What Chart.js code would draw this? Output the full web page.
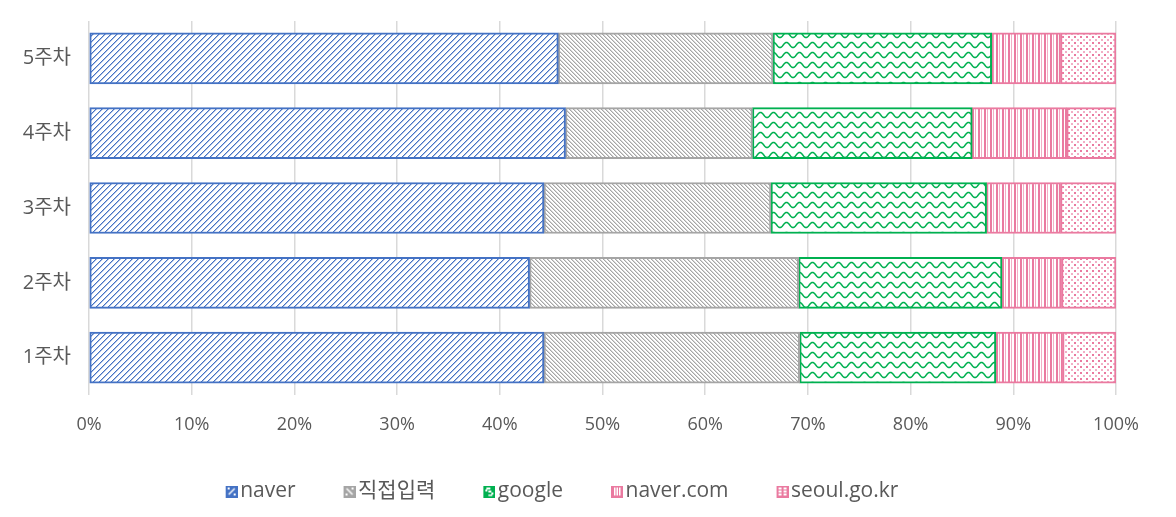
<!DOCTYPE html>
<html>
<head>
<meta charset="utf-8">
<script src="https://cdn.jsdelivr.net/npm/chart.js@4"></script>
<style>
  body { margin: 0; background: #fff; }
  #wrap { width: 1176px; height: 517px; }
</style>
</head>
<body>
<div id="wrap"><canvas id="chart"></canvas></div>
<script>
var weeks = ["1주차", "2주차", "3주차", "4주차", "5주차"];
var seriesNames = ["naver", "직접입력", "google", "naver.com", "seoul.go.kr"];
var naver = [44.3, 42.9, 44.3, 46.4, 45.7];
var direct = [24.9, 26.2, 22.1, 18.2, 20.9];
var google = [19.1, 19.8, 21.0, 21.4, 21.3];
var naverCom = [6.5, 5.8, 7.2, 9.2, 6.7];
var seoul = [5.2, 5.3, 5.4, 4.8, 5.4];
var xTicks = [0, 10, 20, 30, 40, 50, 60, 70, 80, 90, 100];

var BLUE = "#4472C4", GRAY = "#A5A5A5", GREEN = "#00B050", PINK = "#EA7AA0";

// small tiles drawn pixel by pixel, then turned into patterns
function tile(w, h, draw) {
    var c = document.createElement("canvas");
    c.width = w; c.height = h;
    var g = c.getContext("2d");
    g.fillStyle = "#fff";
    g.fillRect(0, 0, w, h);
    draw(g, w, h);
    return document.createElement("canvas").getContext("2d").createPattern(c, "repeat");
}

var patNaver = tile(6, 6, function(g, w, h) {
    for (var x = 0; x < w; x++) for (var y = 0; y < h; y++) {
        var k = (x + y) % 6;
        if (k == 0) { g.fillStyle = BLUE; g.fillRect(x, y, 1, 1); }
        if (k == 1) { g.fillStyle = "rgba(68,114,196,0.45)"; g.fillRect(x, y, 1, 1); }
    }
});
var patDirect = tile(4, 4, function(g, w, h) {
    for (var x = 0; x < w; x++) for (var y = 0; y < h; y++) {
        var k = ((x - y) % 4 + 4) % 4;
        if (k == 0) { g.fillStyle = GRAY; g.fillRect(x, y, 1, 1); }
        if (k == 1) { g.fillStyle = "rgba(165,165,165,0.45)"; g.fillRect(x, y, 1, 1); }
    }
});
var patGoogle = tile(13, 10, function(g, w, h) {
    g.strokeStyle = GREEN;
    g.lineWidth = 1.5;
    g.beginPath();
    for (var x = -1; x <= w + 1; x += 0.5) {
        var y = 5 + 2.6 * Math.cos(2 * Math.PI * x / w);
        if (x == -1) g.moveTo(x, y); else g.lineTo(x, y);
    }
    g.stroke();
});
var patNaverCom = tile(6, 4, function(g, w, h) {
    g.fillStyle = PINK;
    g.fillRect(0, 0, 2, h);
    g.fillStyle = "rgba(234,122,160,0.6)";
    g.fillRect(3, 0, 1, h);
});
var patSeoul = tile(6, 6, function(g, w, h) {
    g.fillStyle = PINK;
    g.fillRect(0, 0, 2, 2);
    g.fillStyle = "rgba(234,122,160,0.6)";
    g.fillRect(3, 3, 2, 2);
});

// legend icons: coloured 12px square with a white glyph, sitting at the right of a wider image
// so that the text follows close behind it
function icon(color, glyph) {
    var c = document.createElement("canvas");
    c.width = 28; c.height = 12;
    var g = c.getContext("2d");
    g.translate(16, 0);
    g.fillStyle = color;
    g.fillRect(0, 0, 12, 12);
    g.strokeStyle = "#fff";
    g.fillStyle = "#fff";
    g.lineWidth = 1.5;
    glyph(g);
    return c;
}
var icons = [
    icon(BLUE, function(g) { g.beginPath(); g.moveTo(3, 9); g.lineTo(9, 3); g.stroke(); g.fillRect(2, 2, 2, 2); g.fillRect(8, 8, 2, 2); }),
    icon(GRAY, function(g) { g.beginPath(); g.moveTo(3, 3); g.lineTo(9, 9); g.stroke(); g.fillRect(8, 2, 2, 2); g.fillRect(2, 8, 2, 2); }),
    icon(GREEN, function(g) { g.fillRect(3, 2, 4, 2); g.fillRect(2, 4, 2, 2); g.fillRect(5, 5, 3, 2); g.fillRect(8, 7, 2, 2); g.fillRect(5, 9, 4, 1.5); }),
    icon(PINK, function(g) { g.fillRect(3, 2, 1.5, 8); g.fillRect(5.5, 2, 1.5, 8); g.fillRect(8, 2, 1.5, 8); }),
    icon(PINK, function(g) { g.fillRect(2, 2, 3, 2); g.fillRect(7, 2, 3, 2); g.fillRect(2, 5, 3, 2); g.fillRect(7, 5, 3, 2); g.fillRect(2, 8, 3, 2); g.fillRect(7, 8, 3, 2); })
];

function ds(label, data, pat, color) {
    return {
        label: label,
        data: data,
        backgroundColor: pat,
        borderColor: color,
        borderWidth: 2,
        borderSkipped: false,
        barThickness: 51
    };
}

var datas = {
    labels: weeks,
    datasets: [
        ds(seriesNames[0], naver, patNaver, BLUE),
        ds(seriesNames[1], direct, patDirect, GRAY),
        ds(seriesNames[2], google, patGoogle, GREEN),
        ds(seriesNames[3], naverCom, patNaverCom, PINK),
        ds(seriesNames[4], seoul, patSeoul, PINK)
    ]
};

var FONT = "'Open Sans', 'Noto Sans CJK KR', sans-serif";
var TEXT = "#595959";

// keep the legend box short so the plot gets the height
var legendHeight = {
    id: "legendHeight",
    beforeLayout: function(ch) {
        var lg = ch.legend;
        if (lg && !lg._patched) {
            var fit = lg.fit;
            lg.fit = function() { fit.call(this); this.height = 76; };
            lg._patched = true;
        }
    }
};

var chart = new Chart(document.getElementById("chart"), {
    type: "bar",
    data: datas,
    plugins: [legendHeight],
    options: {
        indexAxis: "y",
        responsive: true,
        maintainAspectRatio: false,
        animation: false,
        devicePixelRatio: 1,
        layout: { padding: { top: 21, right: 60, bottom: 0, left: 0 } },
        scales: {
            x: {
                stacked: true,
                min: 0,
                max: 100,
                afterBuildTicks: function(s) { s.ticks = xTicks.map(function(v) { return { value: v }; }); },
                afterFit: function(s) { s.height = 46; },
                grid: { color: "#D9D9D9", lineWidth: 1.5, drawTicks: false },
                border: { display: false },
                ticks: {
                    padding: 19,
                    color: TEXT,
                    font: { family: FONT, size: 18 },
                    callback: function(v) { return v + "%"; }
                }
            },
            y: {
                stacked: true,
                reverse: true,
                grid: { display: false, drawTicks: false },
                border: { display: false },
                afterFit: function(s) {
                    s.width = 89;
                    s.paddingTop = 0;
                    s.paddingBottom = 0;
                },
                ticks: {
                    padding: 18,
                    color: TEXT,
                    font: { family: FONT, size: 20 }
                }
            }
        },
        plugins: {
            tooltip: { enabled: false },
            legend: {
                position: "bottom",
                labels: {
                    usePointStyle: true,
                    pointStyleWidth: 12,
                    boxWidth: 12,
                    boxHeight: 12,
                    padding: 40,
                    color: TEXT,
                    font: { family: FONT, size: 21 },
                    generateLabels: function(ch) {
                        return ch.data.datasets.map(function(d, i) {
                            return {
                                text: d.label,
                                fillStyle: d.borderColor,
                                strokeStyle: d.borderColor,
                                lineWidth: 0,
                                pointStyle: icons[i],
                                fontColor: TEXT,
                                datasetIndex: i
                            };
                        });
                    }
                }
            }
        }
    }
});
</script>
</body>
</html>
